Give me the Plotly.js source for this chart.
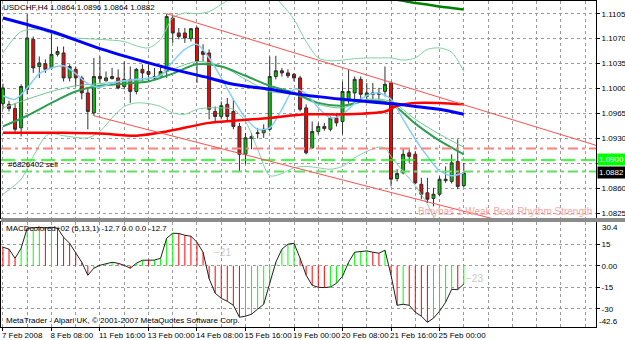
<!DOCTYPE html>
<html><head><meta charset="utf-8">
<script src="https://cdn.plot.ly/plotly-3.0.1.min.js"></script>
<style>html,body{margin:0;padding:0;background:#fff;}#chart{width:625px;height:340px;}</style>
</head><body><div id="chart"></div>
<script>
// ---- data (bar index 0 = 7 Feb 2008 00:00, H4 bars) ----
const barIdx = [0,1,2,3,4,5,6,7,8,9,10,11,12,13,14,15,16,17,18,19,20,21,22,23,24,25,26,27,28,29,30,31,32,33,34,35,36,37,38,39,40,41,42,43,44,45,46,47,48,49,50,51,52,53,54,55,56,57,58,59,60,61,62,63,64,65,66,67,68,69,70,71,72,73,74,75,76];
const open = [1.0979,1.0978,1.0972,1.0945,1.0999,1.1069,1.1031,1.1035,1.1029,1.1048,
1.1050,1.1015,1.1027,1.1015,1.0994,1.0966,1.1017,1.1011,1.1017,1.1015,
1.1003,1.1013,1.0996,1.1027,1.1024,1.1017,1.1017,1.1024,1.1099,1.1078,
1.1078,1.1070,1.1085,1.1052,1.1050,1.0968,1.0961,1.0978,1.0968,1.0947,
1.0908,1.0930,1.0937,1.0938,1.0943,1.1017,1.1025,1.1022,1.1020,1.1015,
1.0973,1.0917,1.0940,1.0947,1.0943,1.0959,1.0954,1.0985,1.0994,1.1013,
1.0989,1.0994,1.0992,1.0996,1.1008,1.0874,1.0882,1.0910,1.0908,1.0866,
1.0854,1.0846,1.0852,1.0871,1.0870,1.0898,1.0864];
const high = [1.1007,1.0983,1.0980,1.1006,1.1104,1.1073,1.1045,1.1041,1.1080,1.1059,
1.1059,1.1034,1.1031,1.1018,1.1001,1.1043,1.1045,1.1024,1.1029,1.1027,
1.1038,1.1031,1.1029,1.1034,1.1034,1.1029,1.1031,1.1105,1.1102,1.1085,
1.1085,1.1085,1.1087,1.1062,1.1055,1.0975,1.0982,1.0987,1.0986,1.0952,
1.0938,1.0938,1.0945,1.0950,1.1045,1.1046,1.1029,1.1027,1.1022,1.1018,
1.0978,1.0954,1.0952,1.0952,1.0961,1.0966,1.1010,1.1027,1.1017,1.1017,
1.1008,1.1008,1.1001,1.1031,1.1010,1.0887,1.0917,1.0915,1.0912,1.0875,
1.0875,1.0861,1.0877,1.0891,1.0908,1.0929,1.0896];
const low = [1.0971,1.0968,1.0938,1.0933,1.0992,1.1022,1.1015,1.1022,1.1027,1.1045,
1.1010,1.1010,1.1003,1.0985,1.0943,1.0962,1.1008,1.1010,1.1013,1.0999,
1.0999,1.0980,1.0992,1.1010,1.1010,1.1013,1.1015,1.1015,1.1064,1.1069,
1.1064,1.1066,1.1008,1.1038,1.0957,1.0954,1.0957,1.0954,1.0943,1.0884,
1.0894,1.0915,1.0930,1.0931,1.0940,1.1013,1.1017,1.1015,1.1010,1.0968,
1.0908,1.0916,1.0936,1.0941,1.0940,1.0947,1.0936,1.0979,1.0985,1.0985,
1.0985,1.0985,1.0985,1.0989,1.0863,1.0870,1.0880,1.0896,1.0866,1.0845,
1.0840,1.0835,1.0849,1.0868,1.0867,1.0859,1.0862];
const close = [1.1001,1.0972,1.0943,1.1003,1.1071,1.1029,1.1036,1.1027,1.1048,1.1052,
1.1015,1.1031,1.1015,1.0994,1.0968,1.1017,1.1014,1.1015,1.1014,1.1001,
1.1013,1.0996,1.1027,1.1022,1.1020,1.1015,1.1024,1.1101,1.1078,1.1073,
1.1071,1.1084,1.1038,1.1048,1.0971,1.0961,1.0976,1.0961,1.0947,1.0908,
1.0931,1.0933,1.0938,1.0943,1.1017,1.1025,1.1022,1.1018,1.1015,1.0971,
1.0910,1.0940,1.0947,1.0944,1.0959,1.0952,1.0996,1.0996,1.1013,1.0992,
1.0994,1.0992,1.0994,1.1006,1.0873,1.0881,1.0908,1.0905,1.0868,1.0852,
1.0845,1.0852,1.0873,1.0873,1.0896,1.0863,1.0882];

// moving averages / bands (read at sampled bars)
const blueIdx = [0,8,16,24,28,34,38,44,48,56,64,68,72,76];
const blueVal = [1.1099,1.1080,1.1056,1.1036,1.1027,1.1015,1.1006,1.0999,1.0993,1.0985,1.0979,1.0975,1.0971,1.0964];
const redIdx = [0,10,16,22,27,34,38,44,50,56,63,65,68,72,76];
const redVal = [1.0938,1.0938,1.0937,1.0934,1.0940,1.0952,1.0955,1.0959,1.0964,1.0964,1.0968,1.0976,1.0980,1.0980,1.0978];
const dkGreenIdx = [64,66,68,70,72,74,76];
const dkGreenVal = [1.1126,1.1123,1.1120,1.1118,1.1115,1.1113,1.1111];
const skyIdx = [0,2,4,6,8,10,12,14,16,18,20,22,24,26,28,30,32,34,36,38,40,42,44,46,48,50,52,54,56,58,60,62,64,66,68,70,72,74,76];
const skyVal = [1.0990,1.0985,1.1001,1.1021,1.1029,1.1032,1.1021,1.1007,1.1002,1.1008,1.1011,1.1013,1.1015,1.1018,1.1038,1.1055,1.1062,1.1043,1.1015,1.0985,1.0959,1.0943,1.0945,1.0971,1.0999,1.0993,1.0973,1.0959,1.0964,1.0979,1.0990,1.0994,1.0985,1.0957,1.0929,1.0905,1.0885,1.0878,1.0882];
const midIdx = [0,4,8,12,16,20,24,28,32,36,40,44,48,52,56,60,64,68,72,76];
const bbMidVal = [1.0973,1.0985,1.0996,1.1004,1.1007,1.1010,1.1013,1.1027,1.1038,1.1032,1.1013,1.0996,1.0992,1.0978,1.0973,1.0985,1.0982,1.0957,1.0936,1.0918];
const greenVal = [1.0947,1.0962,1.0980,1.0996,1.1004,1.1007,1.1010,1.1021,1.1034,1.1031,1.1018,1.1004,1.0994,1.0980,1.0976,1.0983,1.0979,1.0951,1.0927,1.0908];
const bbUpIdx = [0,3,6,8,12,16,20,22,24,26,28,30,32,34,36,38,40,42,44,46,48,50,52,54,56,58,60,62,64,66,68,70,72,74,76];
const bbUpVal = [1.1050,1.1080,1.1083,1.1077,1.1071,1.1069,1.1066,1.1060,1.1057,1.1069,1.1099,1.1106,1.1105,1.1108,1.1118,1.1129,1.1139,1.1141,1.1136,1.1118,1.1097,1.1066,1.1043,1.1039,1.1040,1.1042,1.1043,1.1043,1.1043,1.1040,1.1043,1.1055,1.1057,1.1051,1.1024];
const bbLoIdx = [0,3,5,7,8,10,14,16,18,20,22,24,26,28,30,32,34,36,38,40,42,44,46,48,50,52,54,56,58,60,62,63,64,66,68,70,72,74,76];
const bbLoVal = [1.0852,1.0873,1.0905,1.0933,1.0937,1.0934,1.0931,1.0940,1.0959,1.0975,1.0980,1.0979,1.0975,1.0966,1.0964,1.0971,1.0973,1.0973,1.0971,1.0954,1.0915,1.0878,1.0881,1.0889,1.0891,1.0889,1.0887,1.0891,1.0903,1.0912,1.0918,1.0917,1.0905,1.0884,1.0864,1.0838,1.0805,1.0789,1.0782];

// channel trendlines (bar index, price)
const upperLineIdx = [27, 98];
const upperLinePrice = [1.1105, 1.0920];
const lowerLineIdx = [15, 82];
const lowerLinePrice = [1.0962, 1.0815];
// horizontal order / level lines
const levelPrices = [1.0916, 1.0900, 1.0884];

// MACD (5,13,1)
const macd = [12.9,11.5,5.2,12.2,26.1,26.5,26.6,26.3,26.8,26.1,
19.8,15.6,9.4,2.4,-6.6,-1.7,0.3,1.4,2.4,1.7,
0.3,-1.7,1.7,3.8,3.6,3.9,5.2,19.1,22.6,22.4,
21.2,20.5,16.3,9.4,-9.0,-19.1,-22.6,-24.7,-27.5,-35.8,
-35.1,-33.7,-30.2,-26.8,-12.2,2.4,11.5,15.0,15.6,5.2,
-6.6,-13.6,-15.0,-15.2,-14.8,-12.2,-7.3,2.4,9.4,10.1,
10.3,9.4,8.7,10.8,-6.6,-27.5,-26.8,-27.5,-32.3,-35.1,
-39.3,-36.5,-31.6,-25.4,-16.4,-16.6,-12.7];

// axis ticks
const xTickIdx = [0,8,16,24,32,40,48,56,64,72];
const xTickText = ['7 Feb 2008','8 Feb 08:00','11 Feb 16:00','13 Feb 00:00','14 Feb 08:00','15 Feb 16:00','19 Feb 00:00','20 Feb 08:00','21 Feb 16:00','25 Feb 00:00'];
const priceTicks = [1.1105,1.1070,1.1035,1.1000,1.0965,1.0930,1.0895,1.0860,1.0825];
const priceTickText = ['1.1105','1.1070','1.1035','1.1000','1.0965','1.0930','','1.0860','1.0825'];
const macdTicks = [15,0,-15,-30];
const macdTickText = ['15','0.00','-15','-30'];

// ---- chart ----
const FONT = 'Liberation Sans, Arial, sans-serif';

function line(xs, ys, color, width){
  return {type:'scatter', mode:'lines', x:xs, y:ys, xaxis:'x', yaxis:'y',
    line:{color:color, width:width, shape:'spline', smoothing:0.8}, hoverinfo:'skip'};
}

// histogram as 1px vertical segments, coloured by direction
const upX=[], upY=[], dnX=[], dnY=[];
macd.forEach((v,i)=>{
  const rising = i>0 && v>macd[i-1];
  const X = rising ? upX : dnX, Y = rising ? upY : dnY;
  X.push(barIdx[i], barIdx[i], null); Y.push(0, v, null);
});

const traces = [
  {type:'candlestick', x:barIdx, open:open, high:high, low:low, close:close, xaxis:'x', yaxis:'y',
   increasing:{line:{color:'#303030', width:1}, fillcolor:'#00c800'},
   decreasing:{line:{color:'#303030', width:1}, fillcolor:'#ff0000'},
   whiskerwidth:0, hoverinfo:'skip'},
  line(bbUpIdx, bbUpVal, '#7fd1a2', 1),
  line(bbLoIdx, bbLoVal, '#7fd1a2', 1),
  line(midIdx, bbMidVal, '#6cc891', 1),
  line(midIdx, greenVal, '#2e9e50', 2),
  line(skyIdx, skyVal, '#87cefa', 1.5),
  line(redIdx, redVal, '#ff0000', 2.5),
  line(blueIdx, blueVal, '#0000ff', 3),
  line(dkGreenIdx, dkGreenVal, '#008000', 2.5),
  {type:'scatter', mode:'lines', x:upX, y:upY, xaxis:'x2', yaxis:'y2', connectgaps:false,
   line:{color:'#00ff00', width:1}, hoverinfo:'skip'},
  {type:'scatter', mode:'lines', x:dnX, y:dnY, xaxis:'x2', yaxis:'y2', connectgaps:false,
   line:{color:'#ff0000', width:1}, hoverinfo:'skip'},
  {type:'scatter', mode:'lines', x:barIdx, y:macd, xaxis:'x2', yaxis:'y2',
   line:{color:'#202020', width:1}, hoverinfo:'skip'}
];

const gridStyle = {gridcolor:'#9a9a9a', griddash:'3px,3px', gridwidth:1};
const yPriceDom = [0.3344, 1];
const yMacdDom = [0, 0.3221];

const shapes = [
  {type:'line', xref:'paper', x0:0, x1:1, yref:'y', y0:levelPrices[0], y1:levelPrices[0],
   line:{color:'#ff8080', width:2, dash:'10px,4px,3px,4px'}},
  {type:'line', xref:'paper', x0:0, x1:1, yref:'y', y0:levelPrices[1], y1:levelPrices[1],
   line:{color:'#00ff00', width:1.5, dash:'14px,6px'}},
  {type:'line', xref:'paper', x0:0, x1:1, yref:'y', y0:levelPrices[2], y1:levelPrices[2],
   line:{color:'#66dd66', width:2, dash:'10px,4px,3px,4px'}},
  {type:'line', xref:'x', yref:'y', x0:upperLineIdx[0], x1:upperLineIdx[1], y0:upperLinePrice[0], y1:upperLinePrice[1],
   line:{color:'#ff5050', width:1}},
  {type:'line', xref:'x', yref:'y', x0:lowerLineIdx[0], x1:lowerLineIdx[1], y0:lowerLinePrice[0], y1:lowerLinePrice[1],
   line:{color:'#ff5050', width:1}},
  {type:'rect', xref:'paper', yref:'paper', x0:0, x1:1.05, y0:yMacdDom[1], y1:yPriceDom[0],
   fillcolor:'#8c8c8c', line:{width:0}}
];

const ann = (o)=>Object.assign({showarrow:false, font:{family:FONT, size:8, color:'#000'}, borderpad:0}, o);
const annotations = [
  ann({text:'USDCHF,H4 1.0864 1.0896 1.0864 1.0882', xref:'paper', yref:'paper', x:0, y:1, xanchor:'left', yanchor:'top', xshift:1, yshift:-1}),
  ann({text:'#6826402 sell', xref:'x', yref:'y', x:0.6, y:levelPrices[2], xanchor:'left', yanchor:'bottom', yshift:1}),
  ann({text:'1.0900', xref:'paper', yref:'y', x:1, y:1.0900, xanchor:'left', xshift:1, bgcolor:'#00ff00', borderpad:1, font:{family:FONT, size:8, color:'#ffffff'}}),
  ann({text:'1.0882', xref:'paper', yref:'y', x:1, y:close[76], xanchor:'left', xshift:1, bgcolor:'#000000', borderpad:1, font:{family:FONT, size:8, color:'#ffffff'}}),
  ann({text:'Bmybas 1 Weak Bear Rhythm Strength', xref:'paper', yref:'paper', x:1, y:yPriceDom[0], xanchor:'right', yanchor:'bottom', xshift:-3, yshift:0, font:{family:FONT, size:10, color:'#ffa4a4'}}),
  ann({text:'MACDcolored+02 (5,13,1) -12.7 0.0 0.0 -12.7', xref:'paper', yref:'paper', x:0, y:yMacdDom[1], xanchor:'left', yanchor:'top', xshift:4, yshift:-1}),
  ann({text:'MetaTrader - Alpari UK, \u00a9 2001-2007 MetaQuotes Software Corp.', xref:'paper', yref:'paper', x:0, y:0, xanchor:'left', yanchor:'bottom', xshift:4, yshift:1}),
  ann({text:'\u221221', xref:'x2', yref:'y2', x:34.6, y:9.5, xanchor:'left', font:{family:FONT, size:10, color:'#c8c8c8'}}),
  ann({text:'\u221223', xref:'x2', yref:'y2', x:76.2, y:-8.6, xanchor:'left', font:{family:FONT, size:10, color:'#c8c8c8'}}),
  ann({text:'30.4', xref:'paper', yref:'y2', x:1, y:30.4, xanchor:'left', yanchor:'top', xshift:5}),
  ann({text:'-42.6', xref:'paper', yref:'y2', x:1, y:-42.6, xanchor:'left', yanchor:'bottom', xshift:2})
];

const layout = {
  width:625, height:340, margin:{l:1, r:29, t:1, b:13},
  paper_bgcolor:'#ffffff', plot_bgcolor:'#ffffff', showlegend:false,
  font:{family:FONT, size:8, color:'#000'},
  xaxis:Object.assign({domain:[0,1], anchor:'y', range:[-0.32, 97.8], rangeslider:{visible:false},
    tickmode:'array', tickvals:xTickIdx, showticklabels:false, ticks:'',
    showline:true, mirror:true, linecolor:'#000', linewidth:1, zeroline:false,
    minor:Object.assign({dtick:4, tick0:0, showgrid:true, ticks:''}, gridStyle)}, gridStyle),
  xaxis2:Object.assign({domain:[0,1], anchor:'y2', matches:'x', range:[-0.32, 97.8],
    tickmode:'array', tickvals:xTickIdx, ticktext:xTickText, ticklabelposition:'outside right',
    ticklabelshift:-2, tickangle:0, automargin:false,
    ticks:'outside', ticklen:3, tickcolor:'#000', tickfont:{family:FONT, size:8, color:'#000'},
    showline:true, mirror:true, linecolor:'#000', linewidth:1, zeroline:false,
    minor:Object.assign({dtick:4, tick0:0, showgrid:true, ticks:''}, gridStyle)}, gridStyle),
  yaxis:Object.assign({domain:yPriceDom, anchor:'x', side:'right', range:[1.08187, 1.11228],
    tickmode:'array', tickvals:priceTicks, ticktext:priceTickText, ticks:'outside', ticklen:3, tickcolor:'#000',
    tickfont:{family:FONT, size:8, color:'#000'},
    showline:true, mirror:true, linecolor:'#000', linewidth:1, zeroline:false}, gridStyle),
  yaxis2:Object.assign({domain:yMacdDom, anchor:'x2', side:'right', range:[-42.6, 30.4],
    tickmode:'array', tickvals:macdTicks, ticktext:macdTickText, ticks:'outside', ticklen:3, tickcolor:'#000',
    tickfont:{family:FONT, size:8, color:'#000'},
    showline:true, mirror:true, linecolor:'#000', linewidth:1, zeroline:false}, gridStyle),
  shapes:shapes, annotations:annotations
};

Plotly.newPlot('chart', traces, layout, {staticPlot:true, displayModeBar:false});
</script></body></html>
